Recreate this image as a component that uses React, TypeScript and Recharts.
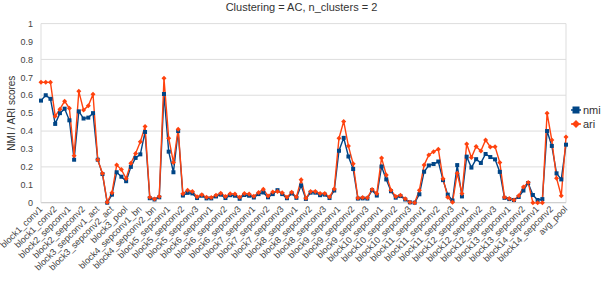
import React from 'react';
import { LineChart, Line, XAxis, YAxis, CartesianGrid, Legend, ReferenceLine } from 'recharts';

const layers: string[] = [
  'block1_conv1', 'block1_conv1_bn', 'block1_conv1_act', 'block1_conv2', 'block1_conv2_bn', 'block1_conv2_act',
  'block2_sepconv1', 'block2_sepconv1_bn', 'block2_sepconv2_act', 'block2_sepconv2', 'block2_sepconv2_bn', 'block2_pool',
  'block3_sepconv1_act', 'block3_sepconv1', 'block3_sepconv1_bn', 'block3_sepconv2_act', 'block3_sepconv2', 'block3_sepconv2_bn', 'block3_pool',
  'block4_sepconv1_act', 'block4_sepconv1', 'block4_sepconv1_bn', 'block4_sepconv2_act', 'block4_sepconv2', 'block4_sepconv2_bn', 'block4_pool',
  'block5_sepconv1_act', 'block5_sepconv1', 'block5_sepconv1_bn', 'block5_sepconv2_act', 'block5_sepconv2', 'block5_sepconv2_bn', 'block5_sepconv3_act', 'block5_sepconv3', 'block5_sepconv3_bn',
  'block6_sepconv1_act', 'block6_sepconv1', 'block6_sepconv1_bn', 'block6_sepconv2_act', 'block6_sepconv2', 'block6_sepconv2_bn', 'block6_sepconv3_act', 'block6_sepconv3', 'block6_sepconv3_bn',
  'block7_sepconv1_act', 'block7_sepconv1', 'block7_sepconv1_bn', 'block7_sepconv2_act', 'block7_sepconv2', 'block7_sepconv2_bn', 'block7_sepconv3_act', 'block7_sepconv3', 'block7_sepconv3_bn',
  'block8_sepconv1_act', 'block8_sepconv1', 'block8_sepconv1_bn', 'block8_sepconv2_act', 'block8_sepconv2', 'block8_sepconv2_bn', 'block8_sepconv3_act', 'block8_sepconv3', 'block8_sepconv3_bn',
  'block9_sepconv1_act', 'block9_sepconv1', 'block9_sepconv1_bn', 'block9_sepconv2_act', 'block9_sepconv2', 'block9_sepconv2_bn', 'block9_sepconv3_act', 'block9_sepconv3', 'block9_sepconv3_bn',
  'block10_sepconv1_act', 'block10_sepconv1', 'block10_sepconv1_bn', 'block10_sepconv2_act', 'block10_sepconv2', 'block10_sepconv2_bn', 'block10_sepconv3_act', 'block10_sepconv3', 'block10_sepconv3_bn',
  'block11_sepconv1_act', 'block11_sepconv1', 'block11_sepconv1_bn', 'block11_sepconv2_act', 'block11_sepconv2', 'block11_sepconv2_bn', 'block11_sepconv3_act', 'block11_sepconv3', 'block11_sepconv3_bn',
  'block12_sepconv1_act', 'block12_sepconv1', 'block12_sepconv1_bn', 'block12_sepconv2_act', 'block12_sepconv2', 'block12_sepconv2_bn', 'block12_sepconv3_act', 'block12_sepconv3', 'block12_sepconv3_bn',
  'block13_sepconv1_act', 'block13_sepconv1', 'block13_sepconv1_bn', 'block13_sepconv2_act', 'block13_sepconv2', 'block13_sepconv2_bn', 'block13_pool',
  'block14_sepconv1', 'block14_sepconv1_bn', 'block14_sepconv1_act', 'block14_sepconv2', 'block14_sepconv2_bn', 'block14_sepconv2_act',
  'avg_pool',
];

const nmi: number[] = [
  0.57, 0.60, 0.58, 0.44, 0.50, 0.525, 0.46, 0.24, 0.51, 0.47,
  0.475, 0.50, 0.24, 0.16, 0.0, 0.045, 0.17, 0.145, 0.12, 0.20,
  0.25, 0.27, 0.395, 0.025, 0.018, 0.03, 0.607, 0.285, 0.17, 0.40,
  0.04, 0.055, 0.052, 0.026, 0.039, 0.024, 0.024, 0.035, 0.045, 0.026,
  0.042, 0.039, 0.022, 0.043, 0.039, 0.029, 0.048, 0.057, 0.03, 0.048,
  0.07, 0.048, 0.025, 0.052, 0.027, 0.096, 0.021, 0.056, 0.056, 0.042,
  0.045, 0.026, 0.068, 0.29, 0.362, 0.258, 0.188, 0.023, 0.024, 0.023,
  0.07, 0.04, 0.202, 0.13, 0.064, 0.028, 0.037, 0.018, 0.002, 0.0,
  0.047, 0.173, 0.208, 0.216, 0.23, 0.126, 0.045, 0.012, 0.21, 0.035,
  0.257, 0.196, 0.243, 0.222, 0.272, 0.255, 0.242, 0.172, 0.027, 0.02,
  0.015, 0.032, 0.068, 0.11, 0.043, 0.015, 0.02, 0.40, 0.317, 0.164,
  0.13, 0.324,
];

const ari: number[] = [
  0.672, 0.672, 0.672, 0.483, 0.522, 0.567, 0.527, 0.262, 0.622, 0.517,
  0.541, 0.605, 0.24, 0.163, 0.002, 0.055, 0.21, 0.185, 0.135, 0.22,
  0.275, 0.34, 0.425, 0.03, 0.02, 0.035, 0.695, 0.36, 0.225, 0.41,
  0.05, 0.07, 0.062, 0.033, 0.045, 0.03, 0.029, 0.042, 0.053, 0.035,
  0.05, 0.048, 0.03, 0.052, 0.048, 0.036, 0.057, 0.075, 0.037, 0.06,
  0.063, 0.055, 0.03, 0.058, 0.032, 0.128, 0.025, 0.063, 0.063, 0.052,
  0.052, 0.032, 0.077, 0.36, 0.454, 0.316, 0.217, 0.026, 0.029, 0.027,
  0.074, 0.052, 0.25, 0.155, 0.07, 0.035, 0.042, 0.022, 0.003, 0.0,
  0.07, 0.21, 0.267, 0.285, 0.299, 0.134, 0.031, 0.002, 0.164, 0.052,
  0.328, 0.252, 0.314, 0.289, 0.35, 0.311, 0.313, 0.225, 0.03, 0.024,
  0.015, 0.039, 0.087, 0.113, 0.0, 0.0, 0.0, 0.50, 0.35, 0.137,
  0.039, 0.367,
];

const yTicks: number[] = [0, 0.1, 0.2, 0.3, 0.4, 0.5, 0.6, 0.7, 0.8, 0.9, 1];

const title = 'Clustering = AC, n_clusters = 2';
const yLabel = 'NMI / ARI scores';

const NMI_COLOR = '#004586';
const ARI_COLOR = '#ff420e';
const FONT = '"Liberation Sans", Arial, sans-serif';

const data = layers.map((name, i) => ({ name, nmi: nmi[i], ari: ari[i] }));

const SquareDot = (props: any) => {
  const { cx, cy } = props;
  if (cx == null || cy == null) return null;
  return <rect x={cx - 2} y={cy - 2} width={4} height={4} fill={NMI_COLOR} />;
};

const DiamondDot = (props: any) => {
  const { cx, cy } = props;
  if (cx == null || cy == null) return null;
  const r = 2.5;
  return <path d={`M${cx},${cy - r}L${cx + r},${cy}L${cx},${cy + r}L${cx - r},${cy}Z`} fill={ARI_COLOR} />;
};

const XTick = (props: any) => {
  const { x, y, payload } = props;
  return (
    <g transform={`translate(${x + 2},${y + 7})`}>
      <text x={0} y={0} textAnchor="end" transform="rotate(-45)" fontSize={9} fill="#444" fontFamily={FONT}>
        {payload.value}
      </text>
    </g>
  );
};

const YLabel = (props: any) => {
  const vb = props.viewBox || {};
  const cx = 12;
  const cy = (vb.y ?? 23.6) + (vb.height ?? 207) / 2;
  return (
    <text x={cx} y={cy} transform={`rotate(-90 ${cx} ${cy})`} textAnchor="middle" dominantBaseline="central" fontSize={10} fill="#333" fontFamily={FONT}>
      {yLabel}
    </text>
  );
};

const LegendContent = () => (
  <div style={{ fontFamily: FONT, fontSize: 11, color: '#333', lineHeight: '14px' }}>
    <div style={{ display: 'flex', alignItems: 'center' }}>
      <svg width={10} height={14}>
        <line x1={0} y1={7} x2={10} y2={7} stroke={NMI_COLOR} strokeWidth={1.5} />
        <rect x={1.5} y={3.5} width={7} height={7} fill={NMI_COLOR} />
      </svg>
      <span style={{ marginLeft: 2 }}>nmi</span>
    </div>
    <div style={{ display: 'flex', alignItems: 'center' }}>
      <svg width={10} height={14}>
        <line x1={0} y1={7} x2={10} y2={7} stroke={ARI_COLOR} strokeWidth={1.5} />
        <path d="M5,3L9,7L5,11L1,7Z" fill={ARI_COLOR} />
      </svg>
      <span style={{ marginLeft: 2 }}>ari</span>
    </div>
  </div>
);

export default function App() {
  return (
    <div style={{ position: 'absolute', left: 0, top: 0, width: 603, height: 295, background: '#fff' }}>
      <div style={{ position: 'absolute', left: 0, top: 1, width: 603, textAlign: 'center', fontFamily: FONT, fontSize: 11, color: '#333', lineHeight: '13px', zIndex: 2 }}>
        {title}
      </div>
      <LineChart width={603} height={295} data={data} margin={{ top: 23.6, right: 37, bottom: 0, left: 0 }}>
        <CartesianGrid vertical={false} stroke="#dddddd" />
        <ReferenceLine x="avg_pool" stroke="#dddddd" />
        <XAxis
          dataKey="name"
          interval={2}
          height={64.3}
          tickSize={0}
          tickMargin={0}
          tickLine={false}
          axisLine={{ stroke: '#cccccc' }}
          tick={<XTick />}
        />
        <YAxis
          domain={[0, 1]}
          ticks={yTicks}
          width={41}
          tickLine={false}
          axisLine={{ stroke: '#dddddd' }}
          tick={{ fontSize: 9, fill: '#444', fontFamily: FONT }}
          label={{ content: <YLabel /> }}
        />
        <Legend
          content={<LegendContent />}
          wrapperStyle={{ position: 'absolute', left: 571, top: 103, width: 32, bottom: 'auto' }}
        />
        <Line type="linear" dataKey="nmi" stroke={NMI_COLOR} strokeWidth={1.4} dot={<SquareDot />} activeDot={false} isAnimationActive={false} />
        <Line type="linear" dataKey="ari" stroke={ARI_COLOR} strokeWidth={1.4} dot={<DiamondDot />} activeDot={false} isAnimationActive={false} />
      </LineChart>
    </div>
  );
}
